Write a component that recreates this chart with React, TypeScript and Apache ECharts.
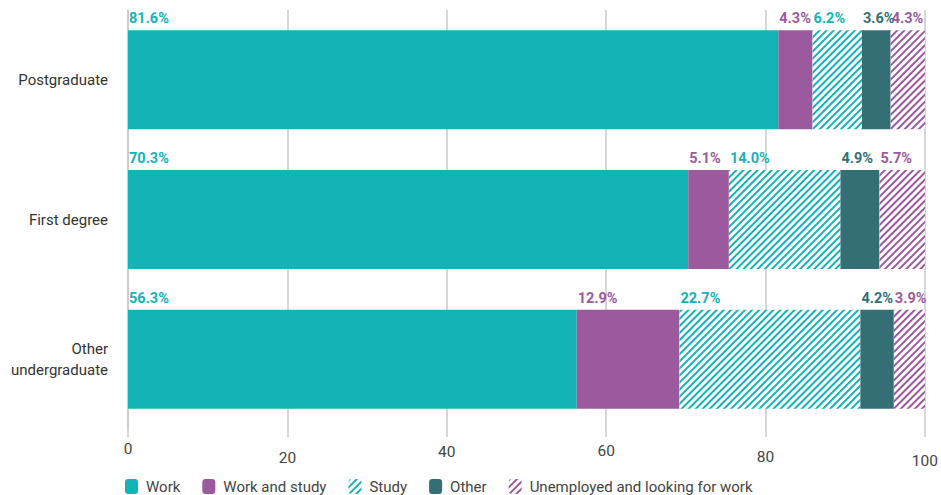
import React, { useEffect, useRef } from "react";
import * as echarts from "echarts";

const categories = ["Postgraduate", "First degree", "Other\nundergraduate"];
const seriesNames = ["Work", "Work and study", "Study", "Other", "Unemployed and looking for work"];
const work = [81.6, 70.3, 56.3];
const workAndStudy = [4.3, 5.1, 12.9];
const study = [6.2, 14.0, 22.7];
const other = [3.6, 4.9, 4.2];
const unemployed = [4.3, 5.7, 3.9];
const xTicks = [0, 20, 40, 60, 80, 100];

const TEAL = "#14b3b6";
const PURPLE = "#9b5a9d";
const DARK = "#336f74";
const FONT = "Roboto, 'Open Sans', sans-serif";

export default function App() {
  const ref = useRef<HTMLDivElement>(null);
  useEffect(() => {
    if (!ref.current) return;
    document.body.style.margin = "0";
    document.body.style.overflow = "hidden";
    const chart = echarts.init(ref.current, null, { renderer: "svg" });
    const hatch = (c: string) => ({
      symbol: "rect",
      color: c,
      backgroundColor: "#ffffff",
      dashArrayX: [1, 0],
      dashArrayY: [2, 3],
      rotation: -Math.PI / 4,
      symbolSize: 1,
    });
    const defs = [
      { name: seriesNames[0], data: work, color: TEAL, decal: null as any, labelColor: TEAL },
      { name: seriesNames[1], data: workAndStudy, color: PURPLE, decal: null, labelColor: PURPLE },
      { name: seriesNames[2], data: study, color: "#ffffff", decal: hatch(TEAL), labelColor: TEAL },
      { name: seriesNames[3], data: other, color: DARK, decal: null, labelColor: DARK },
      { name: seriesNames[4], data: unemployed, color: "#ffffff", decal: hatch(PURPLE), labelColor: PURPLE },
    ];
    const offsets: Record<string, number> = { "0": 0, "20": 9, "40": 3, "60": 2, "80": 8, "100": 12 };
    chart.setOption({
      animation: false,
      textStyle: { fontFamily: FONT },
      grid: { left: 128, right: 15, top: 10, bottom: 66, containLabel: false },
      legend: {
        top: 479,
        left: 125,
        padding: 0,
        itemWidth: 13,
        itemHeight: 15,
        itemGap: 22,
        textStyle: { fontSize: 15, color: "#444", fontFamily: FONT, padding: [0, 0, 0, 3] },
        data: defs.map((d) => ({
          name: d.name,
          itemStyle: d.decal ? { color: "#ffffff", decal: d.decal } : { color: d.color },
        })),
      },
      xAxis: {
        type: "value",
        min: 0,
        max: 100,
        interval: 20,
        axisLine: { show: false },
        axisTick: { show: true, length: 8, lineStyle: { color: "#c8c8c8", width: 1.5 } },
        splitLine: { show: true, lineStyle: { color: "#c8c8c8", width: 1.5 } },
        axisLabel: {
          margin: 12,
          formatter: (v: number) => `{t${v}|${v}}`,
          rich: Object.fromEntries(
            xTicks.map((t) => [
              `t${t}`,
              { fontSize: 15.5, color: "#444", fontFamily: FONT, padding: [offsets[String(t)], 0, 0, 0] },
            ])
          ),
        },
      },
      yAxis: {
        type: "category",
        inverse: true,
        data: categories,
        axisLine: { show: true, lineStyle: { color: "#c8c8c8", width: 1.5 } },
        axisTick: { show: false },
        axisLabel: { fontSize: 15, color: "#333", margin: 20, lineHeight: 21, fontFamily: FONT },
      },
      series: defs.map((d) => ({
        type: "bar",
        name: d.name,
        stack: "total",
        data: d.data,
        barWidth: 99,
        itemStyle: d.decal ? { color: "#ffffff", decal: d.decal } : { color: d.color },
        label: {
          show: true,
          position: [1, -4],
          align: "left",
          verticalAlign: "bottom",
          formatter: (p: any) => `${Number(p.value).toFixed(1)}%`,
          color: d.labelColor,
          fontWeight: "bold",
          fontSize: 14.5,
          fontFamily: FONT,
        },
      })),
    });
    return () => chart.dispose();
  }, []);
  return <div ref={ref} style={{ width: 941, height: 495 }} />;
}
